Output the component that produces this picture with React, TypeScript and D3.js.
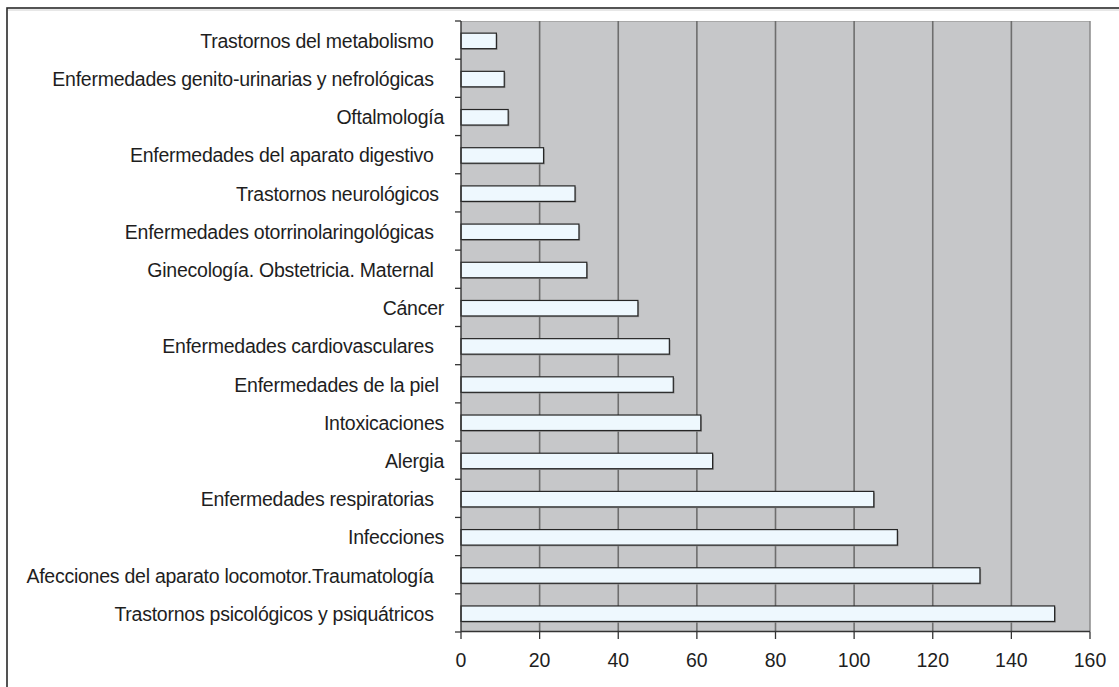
import React from "react";
import * as d3 from "d3";

const categories = [
  "Trastornos del metabolismo  ",
  "Enfermedades genito-urinarias y nefrológicas  ",
  "Oftalmología",
  "Enfermedades del aparato digestivo  ",
  "Trastornos neurológicos ",
  "Enfermedades otorrinolaringológicas  ",
  "Ginecología. Obstetricia. Maternal  ",
  "Cáncer",
  "Enfermedades cardiovasculares  ",
  "Enfermedades de la piel ",
  "Intoxicaciones",
  "Alergia",
  "Enfermedades respiratorias  ",
  "Infecciones",
  "Afecciones del aparato locomotor.Traumatología  ",
  "Trastornos psicológicos y psiquátricos  ",
];

const values = [9, 11, 12, 21, 29, 30, 32, 45, 53, 54, 61, 64, 105, 111, 132, 151];

const xTicks = [0, 20, 40, 60, 80, 100, 120, 140, 160];

const W = 1119;
const H = 687;
const plot = { left: 461, right: 1090, top: 21, bottom: 632 };
const font = "'Liberation Sans', Arial, sans-serif";
const textColor = "#1e1e1e";

export default function App() {
  const x = d3.scaleLinear().domain([0, 160]).range([plot.left, plot.right]);
  const y = d3
    .scaleBand<string>()
    .domain(categories)
    .range([plot.top, plot.bottom])
    .paddingInner(0)
    .paddingOuter(0);
  const bw = y.bandwidth();
  const barH = 15.5;

  return (
    <svg
      width={W}
      height={H}
      style={{ position: "absolute", left: 0, top: 0, display: "block", background: "#fff" }}
    >
      {/* outer frame */}
      <rect x={7} y={8} width={1300} height={900} fill="#fff" stroke="#2a2a2a" strokeWidth={1.6} />
      <line x1={8} x2={W} y1={10} y2={10} stroke="#d0d0d0" strokeWidth={1} />

      {/* plot background */}
      <rect
        x={plot.left}
        y={plot.top}
        width={plot.right - plot.left}
        height={plot.bottom - plot.top}
        fill="#c6c7c9"
      />
      <line x1={plot.left} x2={plot.right} y1={plot.top + 0.5} y2={plot.top + 0.5} stroke="#a8a8a8" strokeWidth={1} />
      <line x1={plot.right} x2={plot.right} y1={plot.top} y2={plot.bottom} stroke="#8a8a8a" strokeWidth={1.5} />

      {/* gridlines */}
      {xTicks.slice(1, -1).map((t) => (
        <line
          key={`g${t}`}
          x1={x(t)}
          x2={x(t)}
          y1={plot.top}
          y2={plot.bottom}
          stroke="#6e6e6e"
          strokeWidth={1.6}
        />
      ))}

      {/* bars */}
      {categories.map((c, i) => {
        const yc = (y(c) as number) + bw / 2 + 0.8;
        const x0 = x(0);
        const x1 = x(values[i]);
        return (
          <g key={`b${i}`}>
            <rect x={x0 + 1.2} y={yc - barH / 2 + 1.2} width={x1 - x0} height={barH} fill="#8e8e8e" />
            <rect
              x={x0}
              y={yc - barH / 2}
              width={x1 - x0}
              height={barH}
              fill="#eef8fe"
              stroke="#262626"
              strokeWidth={1.2}
            />
          </g>
        );
      })}

      {/* left axis */}
      <line x1={plot.left} x2={plot.left} y1={plot.top} y2={plot.bottom} stroke="#333" strokeWidth={1.4} />
      {categories.map((c, i) => (
        <line
          key={`lt${i}`}
          x1={plot.left - 6}
          x2={plot.left}
          y1={y(c) as number}
          y2={y(c) as number}
          stroke="#333"
          strokeWidth={1.3}
        />
      ))}
      <line x1={plot.left - 6} x2={plot.left} y1={plot.bottom} y2={plot.bottom} stroke="#333" strokeWidth={1.3} />

      {/* bottom axis */}
      <line x1={plot.left} x2={plot.right} y1={plot.bottom - 0.5} y2={plot.bottom - 0.5} stroke="#333" strokeWidth={1.4} />
      {xTicks.map((t) => (
        <g key={`xt${t}`}>
          <line x1={x(t)} x2={x(t)} y1={plot.bottom} y2={plot.bottom + 7} stroke="#333" strokeWidth={1.3} />
          <text
            x={x(t)}
            y={660}
            textAnchor="middle"
            dominantBaseline="central"
            fontFamily={font}
            fontSize={19.5}
            fill={textColor}
          >
            {t}
          </text>
        </g>
      ))}

      {/* category labels */}
      {categories.map((c, i) => (
        <text
          key={`lab${i}`}
          x={444}
          y={(y(c) as number) + bw / 2 + 0.8}
          textAnchor="end"
          dominantBaseline="central"
          fontFamily={font}
          fontSize={19.5}
          letterSpacing={-0.25}
          fill={textColor}
          style={{ whiteSpace: "pre" }}
        >
          {c}
        </text>
      ))}
    </svg>
  );
}
